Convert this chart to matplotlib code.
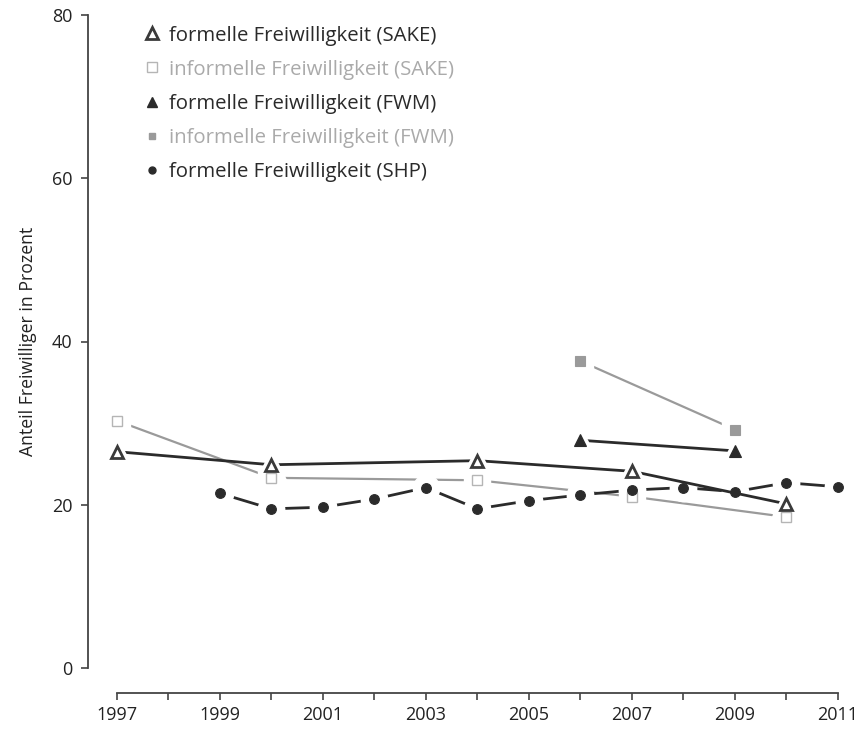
import matplotlib
matplotlib.use("Agg")
import matplotlib.pyplot as plt
from matplotlib.lines import Line2D

plt.rcParams["font.family"] = ["Open Sans", "DejaVu Sans"]

# data
sake_formal_years = [1997, 2000, 2004, 2007, 2010]
sake_formal = [26.5, 24.9, 25.4, 24.1, 20.1]

sake_informal_years = [1997, 2000, 2004, 2007, 2010]
sake_informal = [30.3, 23.3, 23.0, 21.0, 18.5]

fwm_formal_years = [2006, 2009]
fwm_formal = [27.9, 26.6]

fwm_informal_years = [2006, 2009]
fwm_informal = [37.6, 29.2]

shp_years = [1999, 2000, 2001, 2002, 2003, 2004, 2005, 2006, 2007, 2008, 2009, 2010, 2011]
shp_formal = [21.4, 19.5, 19.7, 20.7, 22.1, 19.5, 20.5, 21.2, 21.8, 22.1, 21.6, 22.7, 22.2]

labels = [
    "formelle Freiwilligkeit (SAKE)",
    "informelle Freiwilligkeit (SAKE)",
    "formelle Freiwilligkeit (FWM)",
    "informelle Freiwilligkeit (FWM)",
    "formelle Freiwilligkeit (SHP)",
]

fig = plt.figure(figsize=(8.58, 7.30), dpi=100)
ax = fig.add_axes([88 / 858, 62 / 730, 750 / 858, 653 / 730])

dark = "#2b2b2b"
gray = "#9a9a9a"
light = "#b5b5b5"


def series(x, y, z, lcolor, lw, marker, ms, mfc, mec, mew=1.5):
    # line, a white halo so the line stops short of each marker, markers on top of everything
    ax.plot(x, y, color=lcolor, lw=lw, zorder=z, clip_on=False, solid_capstyle="butt")
    ax.plot(x, y, ls="none", marker=marker, ms=ms + 12, color="white", zorder=z + 0.5, clip_on=False)
    ax.plot(x, y, ls="none", marker=marker, ms=ms, mfc=mfc, mec=mec, mew=mew,
            zorder=z + 10, clip_on=False)


series(sake_informal_years, sake_informal, 2, gray, 1.6, "s", 6.5, "white", light, 1.0)
series(fwm_informal_years, fwm_informal, 3, gray, 1.6, "s", 6.5, gray, gray, 0.8)
series(shp_years, shp_formal, 4, dark, 2.0, "o", 7, dark, dark, 0.8)
series(sake_formal_years, sake_formal, 5, dark, 2.0, "^", 9, "white", "#3a3a3a", 2.0)
series(fwm_formal_years, fwm_formal, 6, dark, 2.0, "^", 8, dark, dark, 0.8)

ax.set_xlim(1996.44, 2011.0)
ax.set_ylim(0, 80)

for s in ["top", "right"]:
    ax.spines[s].set_visible(False)
ax.spines["left"].set_color("#444444")
ax.spines["left"].set_linewidth(1.3)
ax.spines["bottom"].set_color("#444444")
ax.spines["bottom"].set_linewidth(1.3)
ax.spines["bottom"].set_position(("outward", 18))
ax.spines["bottom"].set_bounds(1997, 2011)

ax.set_xticks(range(1997, 2012))
ax.set_xticklabels([str(y) if y % 2 == 1 else "" for y in range(1997, 2012)])
ax.set_yticks([0, 20, 40, 60, 80])
ax.tick_params(axis="both", colors="#444444", labelcolor="#222222", labelsize=13,
               length=5, width=1.2)
ax.tick_params(axis="y", pad=6)
ax.tick_params(axis="x", pad=4)

ax.set_ylabel("Anteil Freiwilliger in Prozent", fontsize=12.7, color="#222222", labelpad=11)

handles = [
    Line2D([], [], ls="none", marker="^", ms=9, mfc="white", mec="#3a3a3a", mew=2.0),
    Line2D([], [], ls="none", marker="s", ms=6.5, mfc="white", mec=light, mew=1.0),
    Line2D([], [], ls="none", marker="^", ms=7, mfc=dark, mec=dark),
    Line2D([], [], ls="none", marker="s", ms=5, mfc=gray, mec=gray),
    Line2D([], [], ls="none", marker="o", ms=5, mfc=dark, mec=dark),
]
leg = ax.legend(handles, labels, loc="upper left", bbox_to_anchor=(0.053, 1.012),
                frameon=False, fontsize=14.7, handlelength=0.6, handletextpad=0.5,
                labelspacing=0.69)
text_colors = ["#2a2a2a", "#aaaaaa", "#2a2a2a", "#aaaaaa", "#2a2a2a"]
for t, c in zip(leg.get_texts(), text_colors):
    t.set_color(c)

fig.savefig("out.png", dpi=100)
